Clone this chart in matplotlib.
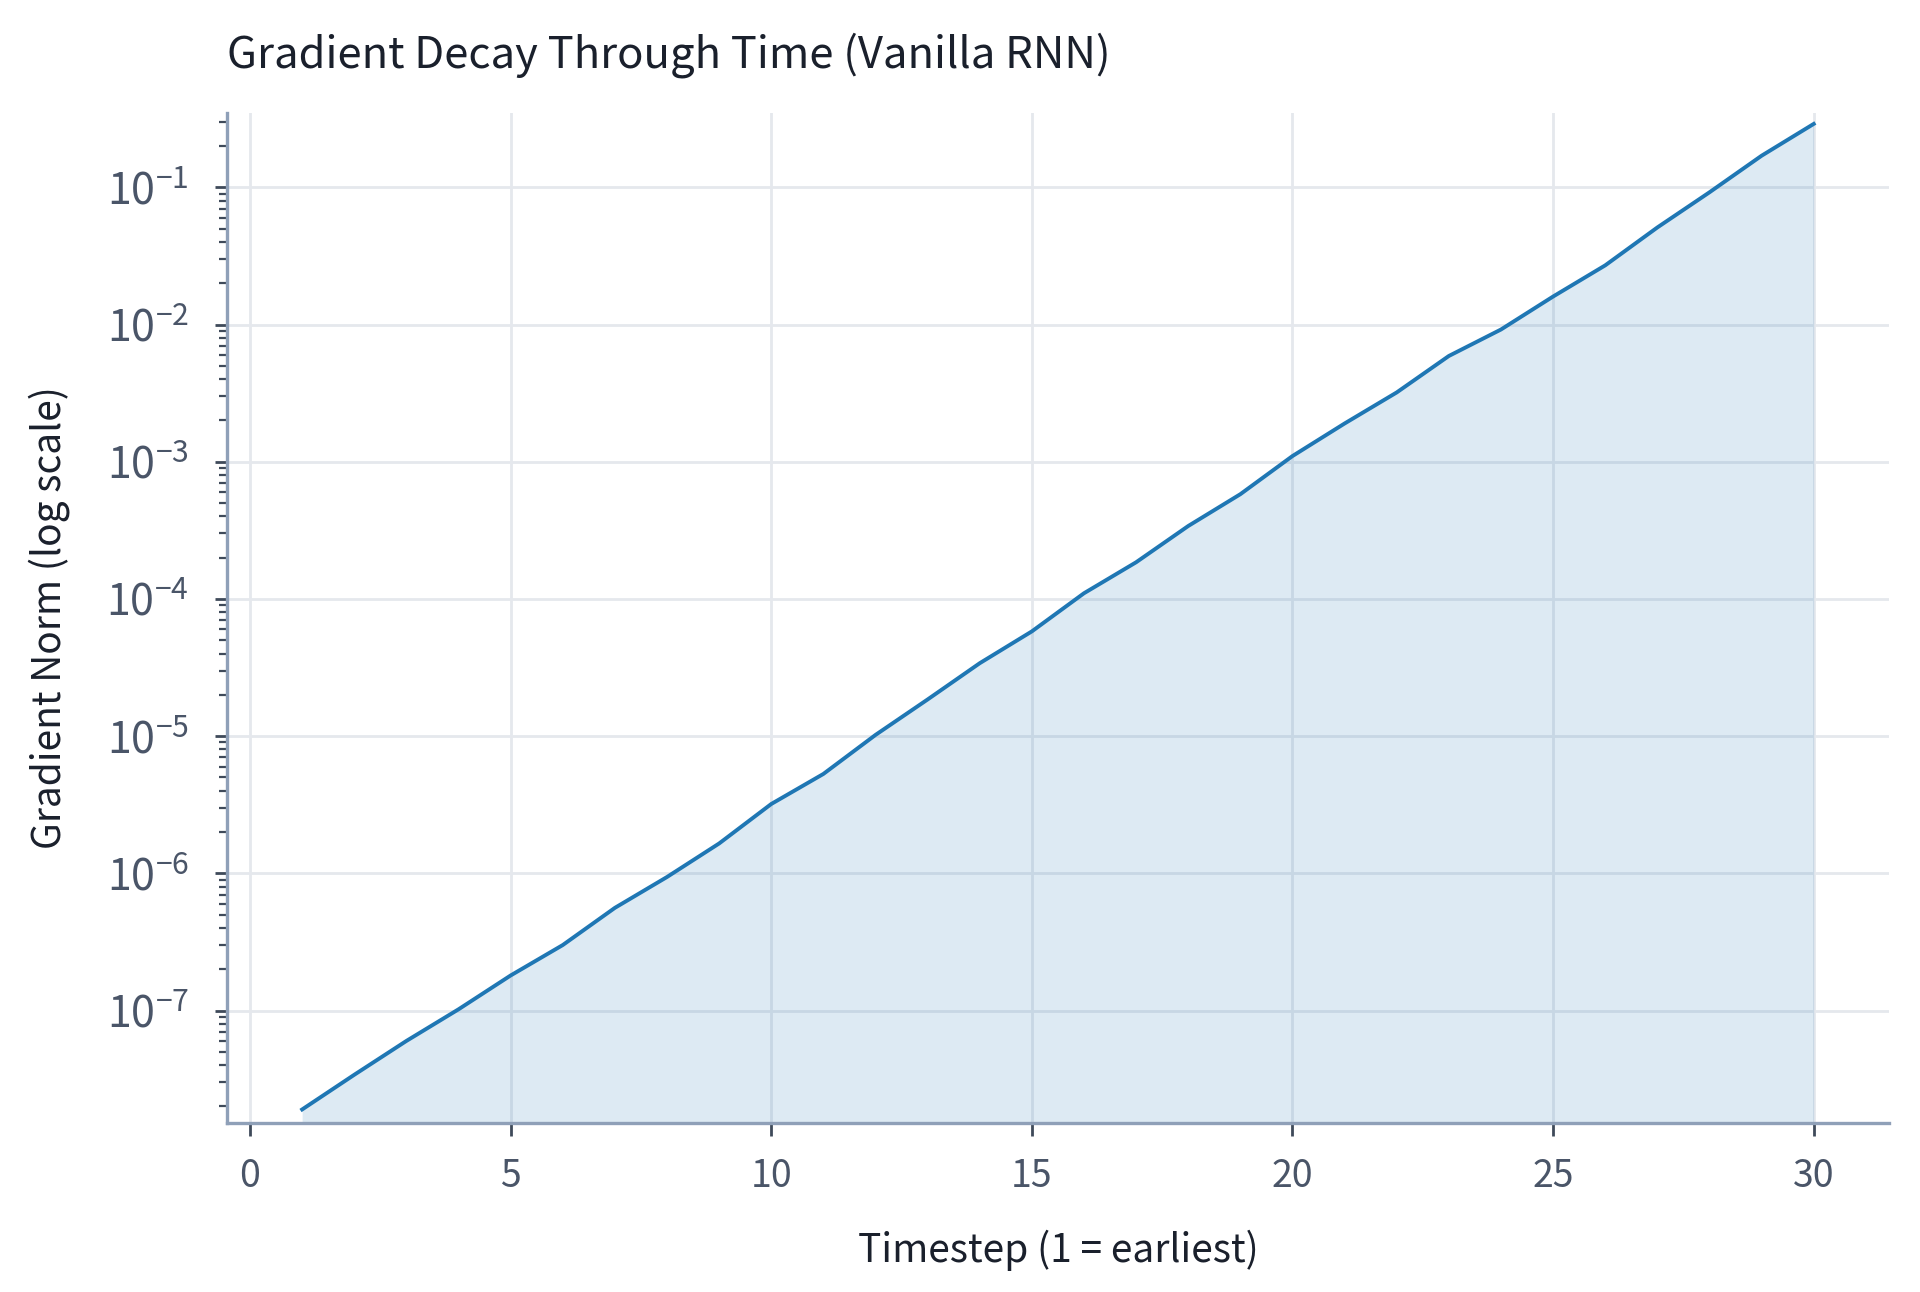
import numpy as np
import matplotlib
matplotlib.use("Agg")
import matplotlib.pyplot as plt

# Gradient norm per timestep (log scale)
timesteps = list(range(1, 31))
grad_norm = [1.9e-8, 3.4e-8, 6.0e-8, 1.02e-7, 1.8e-7, 3.0e-7, 5.6e-7, 9.4e-7,
             1.65e-6, 3.2e-6, 5.3e-6, 1.02e-5, 1.85e-5, 3.4e-5, 5.8e-5, 1.1e-4,
             1.85e-4, 3.4e-4, 5.8e-4, 1.1e-3, 1.9e-3, 3.2e-3, 5.9e-3, 9.2e-3,
             1.6e-2, 2.7e-2, 5.1e-2, 9.2e-2, 0.17, 0.29]

title = "Gradient Decay Through Time (Vanilla RNN)"
xlab = "Timestep (1 = earliest)"
ylab = "Gradient Norm (log scale)"

plt.rcParams['font.family'] = ['Noto Sans CJK KR', 'DejaVu Sans']

fig = plt.figure(figsize=(9.6, 6.46), dpi=200)
ax = fig.add_axes([0.118, 0.131, 0.866, 0.7815])

line_col = "#1f77b4"
ax.plot(timesteps, grad_norm, color=line_col, linewidth=1.4, zorder=3)
ax.set_yscale('log')
ymin = min(grad_norm) * 0.8
ymax = max(grad_norm) * 1.2
ax.set_ylim(ymin, ymax)
ax.fill_between(timesteps, grad_norm, ymin, color=line_col, alpha=0.15,
                linewidth=0, zorder=2)

ax.set_xticks([0, 5, 10, 15, 20, 25, 30])

# styling
ax.grid(True, which='major', color="#e5e8ed", linewidth=1.0, zorder=0)
ax.set_axisbelow(True)
for s in ['top', 'right']:
    ax.spines[s].set_visible(False)
for s in ['left', 'bottom']:
    ax.spines[s].set_color("#8fa0b8")
    ax.spines[s].set_linewidth(1.2)

ax.tick_params(axis='both', which='major', colors="#3f4a5a", labelcolor="#4a5568",
               length=4.5, width=1.0)
ax.tick_params(axis='x', labelsize=13.5, pad=8)
ax.tick_params(axis='y', labelsize=15.5, pad=9)
ax.tick_params(axis='y', which='minor', colors="#3f4a5a", length=2.8, width=0.8)

ax.set_title(title, loc='left', fontsize=15.7, color="#1a202c", pad=16.5)
ax.set_xlabel(xlab, fontsize=14, color="#1a202c", labelpad=12)
ax.set_ylabel(ylab, fontsize=14, color="#1a202c", labelpad=13)

fig.savefig("out.png", dpi=200)
